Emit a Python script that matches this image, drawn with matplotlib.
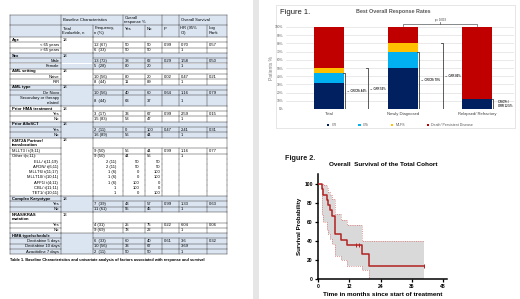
import numpy as np
import matplotlib
matplotlib.use('Agg')
import matplotlib.pyplot as plt
from matplotlib.patches import Rectangle

plt.rcParams['font.family'] = ['Liberation Sans', 'DejaVu Sans']

W, H = 520, 299

# ---- Table 1 columns
tbl_label = ['Age', '< 65 years', '> 65 years',
             'Sex', 'Male', 'Female',
             'AML setting', 'Naive', 'R/R',
             'AML type', 'De Novo', 'Secondary or therapy\nrelated',
             'Prior HMA treatment', 'Yes', 'No',
             'Prior AlloSCT', 'Yes', 'No',
             'KMT2A Partner/\ntranslocation', 'MLLT3 / t(9;11)', 'Other t(v;11):',
             'ELL/ t(11;19)', 'AFDN/ t(6;11)', 'MLLT6/ t(11;17)', 'MLLT10/ t(10;11)',
             'AFF1/ t(4;11)', 'CBL/ t(11;11)', 'TET1/ t(10;11)',
             'Complex Karyotype', 'Yes', 'No',
             'NRAS/KRAS\nmutation', 'Yes', 'No',
             'HMA type/schedule', 'Decitabine 5 days', 'Decitabine 10 days', 'Azacitidine 7 days']
tbl_kind = ['sec', 'row', 'row', 'sec', 'row', 'row', 'sec', 'row', 'row',
            'sec', 'row', 'row', 'sec', 'row', 'row', 'sec', 'row', 'row',
            'sec', 'left', 'left', 'sub', 'sub', 'sub', 'sub', 'sub', 'sub', 'sub',
            'sec', 'row', 'row', 'sec', 'row', 'row', 'sec', 'row', 'row', 'row']
tbl_total = ['18', '', '', '18', '', '', '18', '', '', '18', '', '', '18', '', '',
             '18', '', '', '18', '', '', '', '', '', '', '', '', '',
             '18', '', '', '13', '', '', '', '', '', '']
tbl_freq = ['', '12 (67)', '6  (33)', '', '13 (72)', '5  (28)', '', '10 (56)', '8  (44)',
            '', '10 (56)', '8  (44)', '', '3  (17)', '15 (83)', '', '2  (11)', '16 (89)',
            '', '9 (50)', '9 (50)', '2 (11)', '2 (11)', '1 (6)', '1 (6)', '1 (6)', '1', '1',
            '', '7  (39)', '11 (61)', '', '4 (31)', '9 (69)', '', '6  (33)', '10 (56)', '2  (11)']
tbl_yes = ['', '50', '50', '', '38', '80', '', '80', '11', '', '40', '63', '', '33', '53',
           '', '0', '56', '', '56', '44', '50', '50', '0', '0', '100', '100', '0',
           '', '43', '55', '', '25', '78', '', '60', '33', '50']
tbl_no = ['', '50', '50', '', '62', '20', '', '20', '89', '', '60', '37', '', '67', '47',
          '', '100', '44', '', '44', '56', '50', '50', '100', '100', '0', '0', '100',
          '', '57', '45', '', '75', '22', '', '40', '67', '50']
tbl_p = ['', '0.99', '', '', '0.29', '', '', '0.02', '', '', '0.64', '', '', '0.99', '',
         '', '0.47', '', '', '0.99', '', '', '', '', '', '', '', '',
         '', '0.99', '', '', '0.22', '', '', '0.61', '', '']
tbl_hr = ['', '0.70', '1', '', '1.58', '1', '', '0.47', '1', '', '1.16', '1', '', '2.59', '1',
          '', '2.41', '1', '', '1.16', '1', '', '', '', '', '', '', '',
          '', '1.33', '1', '', '6.04', '1', '', '3.6', '3.69', '1']
tbl_lr = ['', '0.57', '', '', '0.50', '', '', '0.21', '', '', '0.79', '', '', '0.15', '',
          '', '0.31', '', '', '0.77', '', '', '', '', '', '', '', '',
          '', '0.63', '', '', '0.06', '', '', '0.32', '', '']

# ---- Figure 1 data
resp_categories = ['Total', 'Newly Diagnosed', 'Relapsed/ Refractory']
resp_cr = [32, 50, 12.5]
resp_cri = [12, 20, 0]
resp_mlfs = [6, 10, 0]
resp_death = [50, 20, 87.5]
resp_names = ['CR', 'CRi', 'MLFS', 'Death/ Persistent Disease']
resp_p = 'p= 0.033'

# ---- Figure 2 data (Kaplan-Meier, % surviving)
km_t = [0, 1.4, 2.0, 3.3, 4.0, 4.6, 5.3, 6.5, 8.7, 11.0, 16.9, 19.4]
km_s = [100, 94.4, 88.9, 83.3, 77.8, 72.2, 66.7, 47.1, 41.2, 35.3, 26.5, 13.2]
km_upper = [100, 100, 99, 96, 92, 88, 84, 68, 62, 57, 40, 40]
km_lower = [100, 67, 60, 52, 47, 42, 37, 24, 20, 14, 9, 0]
km_end = 40.8
km_censor_t = [14.5, 15.9, 40.8]
km_median = '6.59'


def frac(x0, y0, x1, y1):
    return [x0 / W, 1 - y1 / H, (x1 - x0) / W, (y1 - y0) / H]


fig = plt.figure(figsize=(5.2, 2.99), dpi=100)
bg = fig.add_axes([0, 0, 1, 1])
bg.set_xlim(0, W)
bg.set_ylim(H, 0)
bg.axis('off')

# page divider strip
bg.add_patch(Rectangle((253, 0), 6, H, color='#e6e6e6', lw=0))

# ---------------- Table 1
cols = [10, 61, 93, 123, 145, 162, 179, 207, 227]
blue = '#dbe5f1'
lc = '#3c3c3c'
lw = 0.35
fs = 3.0
unit = 5.3

bg.add_patch(Rectangle((10, 15), 217, 22, color=blue, lw=0))
bg.plot([10, 227], [15, 15], color=lc, lw=lw)
bg.plot([10, 227], [25, 25], color=lc, lw=lw)
for c in [10, 61, 123, 162, 179, 227]:
    bg.plot([c, c], [15, 25], color=lc, lw=lw)
for c in cols:
    bg.plot([c, c], [25, 37], color=lc, lw=lw)
bg.text(63, 20, 'Baseline Characteristics', fontsize=fs, va='center')
bg.text(124.5, 20, 'Overall\nresponse %', fontsize=fs, va='center', linespacing=1.0)
bg.text(181, 20, 'Overall Survival', fontsize=fs, va='center')
head2 = ['Total\nEvaluable, n', 'Frequency,\nn (%)', 'Yes', 'No', 'P', 'HR (95%\nCI)', 'Log\nRank']
for c, t in zip(cols[1:-1], head2):
    bg.text(c + 1.5, 26.5, t, fontsize=fs, va='top', linespacing=1.1)

# row geometry
tops, heights, shades = [], [], []
y = 37.0
sec_idx = -1
for lab, kind in zip(tbl_label, tbl_kind):
    if kind == 'sec':
        sec_idx += 1
    h = unit * (lab.count('\n') + 1)
    tops.append(y)
    heights.append(h)
    shades.append(sec_idx % 2 == 1)
    y += h
tbl_bottom = y

for top, h, sh in zip(tops, heights, shades):
    if sh:
        bg.add_patch(Rectangle((10, top), 217, h, color=blue, lw=0))

for i, (top, h, kind) in enumerate(zip(tops, heights, tbl_kind)):
    if kind != 'sub':
        bg.plot([10, 61], [top, top], color=lc, lw=lw)
        bg.plot([93, 227], [top, top], color=lc, lw=lw)
    if kind == 'sec':
        bg.plot([61, 93], [top, top], color=lc, lw=lw)
        vlines = [10, 61, 93, 227]
    else:
        vlines = cols
    for c in vlines:
        bg.plot([c, c], [top, top + h], color=lc, lw=lw)
    yc = top + h / 2
    lab = tbl_label[i]
    if kind == 'sec':
        bg.text(11.5, yc, lab, fontsize=fs, fontweight='bold', va='center', linespacing=1.1)
        bg.text(62.5, top + unit / 2, tbl_total[i], fontsize=fs, va='center')
    elif kind == 'left':
        bg.text(11.5, yc, lab, fontsize=fs, va='center')
    else:
        bg.text(59.5 if kind == 'row' else 58, yc, lab, fontsize=fs, va='center', ha='right',
                linespacing=1.1)
    vals = [tbl_freq[i], tbl_yes[i], tbl_no[i], tbl_p[i], tbl_hr[i], tbl_lr[i]]
    if kind == 'sub':
        for xr, v in zip([116, 139, 160], vals[:3]):
            bg.text(xr, yc, v, fontsize=fs, va='center', ha='right')
    else:
        for c, v in zip([93, 123, 145, 162, 179, 207], vals):
            bg.text(c + 1.5, yc, v, fontsize=fs, va='center')
bg.plot([10, 227], [tbl_bottom, tbl_bottom], color=lc, lw=lw)
bg.text(10, tbl_bottom + 6, 'Table 1. Baseline Characteristics and univariate analysis of factors '
        'associated with response and survival', fontsize=2.75, fontweight='bold', va='center')

# ---------------- Figure 1
bg.add_patch(Rectangle((276, 5), 239, 123, fill=False, edgecolor='#dcdcdc', lw=0.5))
bg.text(280, 13, 'Figure 1.', fontsize=5.5, va='center', color='#1a1a1a')
bg.text(393, 12, 'Best Overall Response Rates', fontsize=3.9, fontweight='bold', va='center',
        ha='center', color='#595959')

ax1 = fig.add_axes(frac(286, 27, 514, 109))
x = np.arange(len(resp_categories))
colors = ['#002060', '#00b0f0', '#ffc000', '#c00000']
bottom = np.zeros(len(x))
for vals, col, name in zip([resp_cr, resp_cri, resp_mlfs, resp_death], colors, resp_names):
    ax1.bar(x, vals, 0.4, bottom=bottom, color=col, label=name, zorder=3)
    bottom += np.array(vals)
ax1.set_xlim(-0.58, 2.5)
ax1.set_ylim(0, 100)
ax1.set_yticks(np.arange(0, 101, 10))
ax1.set_yticklabels([f'{v}%' for v in range(0, 101, 10)])
ax1.set_xticks(x)
ax1.set_xticklabels(resp_categories)
ax1.tick_params(axis='y', labelsize=2.3, length=0, pad=2, labelcolor='#595959')
ax1.tick_params(axis='x', labelsize=3.0, length=0, pad=2.5, labelcolor='#404040')
ax1.grid(axis='y', color='#d9d9d9', lw=0.4, zorder=0)
for s in ax1.spines.values():
    s.set_visible(False)
ax1.set_ylabel('Patients %', fontsize=3.6, color='#7f7f7f', labelpad=1)


def bracket(ax, xb, top, label, dx=0.03):
    ax.plot([xb - dx, xb, xb, xb - dx], [0.5, 0.5, top, top], color='#404040', lw=0.6, zorder=4)
    ax.text(xb + 0.03, top / 2, '\u2190 ' + label, fontsize=2.0, fontweight='bold',
            va='center', ha='left', color='#262626', zorder=4)


crcri = [a + b for a, b in zip(resp_cr, resp_cri)]
orr = [a + b + c for a, b, c in zip(resp_cr, resp_cri, resp_mlfs)]
bracket(ax1, 0.22, crcri[0], f'CR/CRi {crcri[0]:g}%')
bracket(ax1, 0.53, orr[0], f'ORR {orr[0]:g}%')
bracket(ax1, 1.22, crcri[1], f'CR/CRi {crcri[1]:g}%')
bracket(ax1, 1.54, orr[1], f'ORR {orr[1]:g}%')
ax1.plot([2.2, 2.22, 2.22, 2.2], [0.5, 0.5, crcri[2], crcri[2]], color='#404040', lw=0.6)
ax1.text(2.28, crcri[2] / 2, f'CR/CRi /\nORR {orr[2]:g}%', fontsize=2.0, fontweight='bold',
         va='center', ha='left', color='#262626', linespacing=1.2)
ax1.plot([1, 1, 2, 2], [101.5, 104, 104, 101.5], color='#595959', lw=0.5, clip_on=False)
ax1.plot([1.5, 1.5], [104, 106], color='#595959', lw=0.5, clip_on=False)
ax1.text(1.5, 109, resp_p, fontsize=2.0, ha='center', va='center', color='#262626')
ax1.legend(loc='center', bbox_to_anchor=(0.5, -0.2), ncol=4, frameon=False, fontsize=2.6,
           handlelength=0.7, handleheight=0.7, columnspacing=6, handletextpad=0.6,
           labelcolor='#595959')

# ---------------- Figure 2
bg.text(285, 158, 'Figure 2.', fontsize=5.2, fontweight='bold', va='center', color='#1a1a1a')
bg.text(383, 164, 'Overall  Survival of the Total Cohort', fontsize=4.6, fontweight='bold',
        va='center', ha='center')
bg.text(410, 183, 'Median OS  (mos)', fontsize=4.4, fontweight='bold', va='center', ha='center')
bg.plot([383, 437], [186.5, 186.5], color='black', lw=0.5)
bg.text(423, 195, km_median, fontsize=4.2, fontweight='bold', va='center', ha='center')

ax2 = fig.add_axes(frac(318, 174, 447, 279))
t_full = km_t + [km_end]
ax2.fill_between(t_full, km_lower + [km_lower[-1]], km_upper + [km_upper[-1]], step='post',
                 color='#d9d9d9', lw=0, zorder=1)
ax2.step(t_full, km_upper + [km_upper[-1]], where='post', color='#e07070', lw=0.6, ls=':', zorder=2)
ax2.step(t_full, km_lower + [km_lower[-1]], where='post', color='#e07070', lw=0.6, ls=':', zorder=2)
ax2.step(t_full, km_s + [km_s[-1]], where='post', color='#b22222', lw=1.1, zorder=3)
cens_s = [km_s[np.searchsorted(km_t, tc, side='right') - 1] for tc in km_censor_t]
ax2.plot(km_censor_t, cens_s, ls='none', marker='|', ms=2.5, mew=0.7, color='#b22222', zorder=4)
ax2.set_xlim(0, 49.5)
ax2.set_ylim(0, 110.5)
ax2.set_xticks([0, 12, 24, 36, 48])
ax2.set_yticks([0, 20, 40, 60, 80, 100])
for s in ['top', 'right']:
    ax2.spines[s].set_visible(False)
for s in ['left', 'bottom']:
    ax2.spines[s].set_linewidth(1.1)
ax2.tick_params(length=2.2, width=0.9, labelsize=3.6, pad=1.5)
for lbl in ax2.get_xticklabels() + ax2.get_yticklabels():
    lbl.set_fontweight('bold')
ax2.set_xlabel('Time in months since start of treatment', fontsize=4.6, fontweight='bold',
               labelpad=2)
ax2.set_ylabel('Survival Probability', fontsize=4.4, fontweight='bold', labelpad=2)

fig.savefig('out.png', dpi=100)
